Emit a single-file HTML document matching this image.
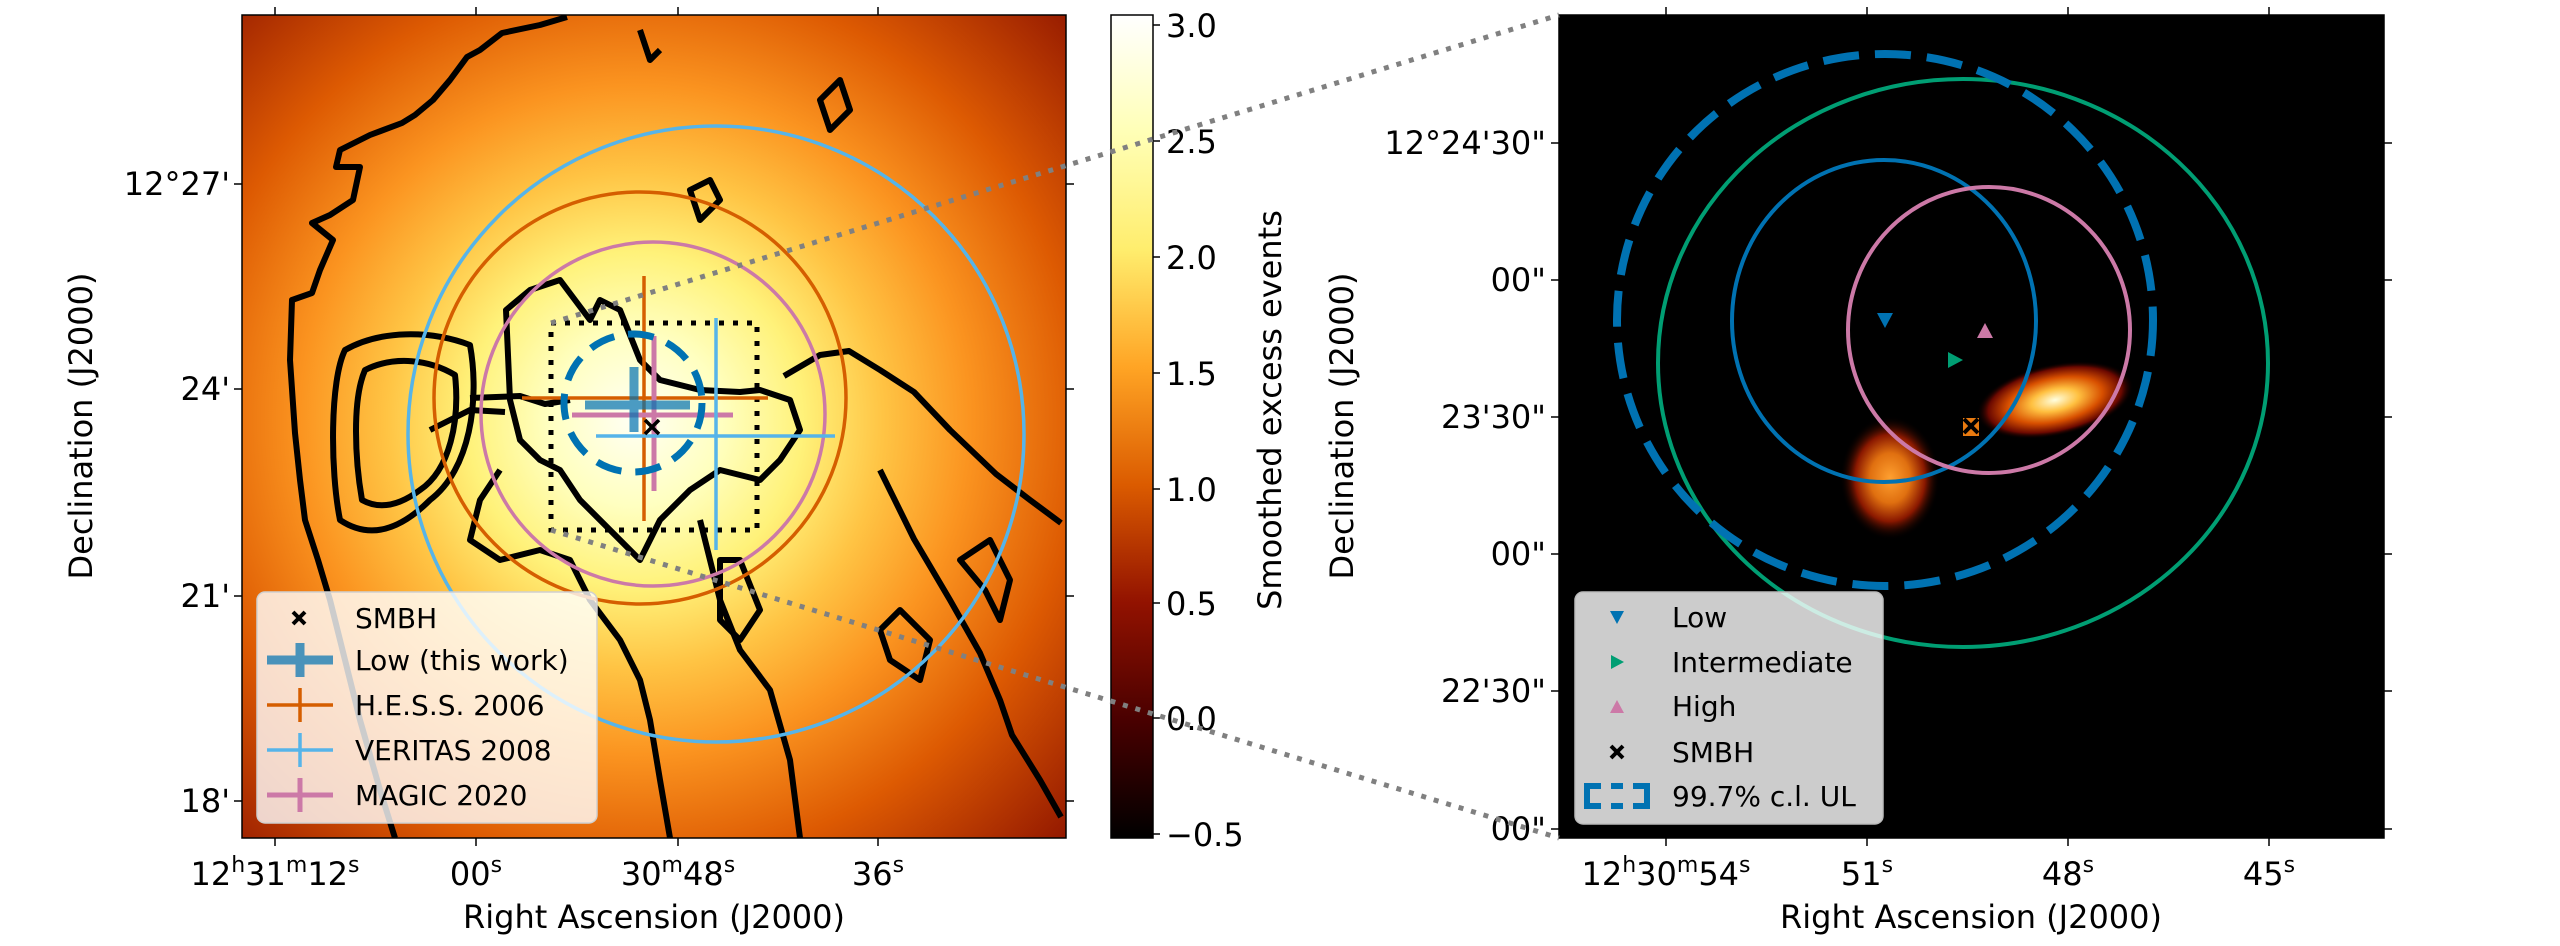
<!DOCTYPE html>
<html><head><meta charset="utf-8"><style>html,body{margin:0;padding:0;background:#fff}svg{display:block}</style></head>
<body>
<svg width="2560" height="946" viewBox="0 0 2560 946" xmlns="http://www.w3.org/2000/svg" font-family="'DejaVu Sans','Liberation Sans',sans-serif">
<defs>
<radialGradient id="hm" gradientUnits="userSpaceOnUse" cx="635" cy="420" r="620">
<stop offset="0" stop-color="#fffff4"/>
<stop offset="0.14" stop-color="#ffffc0"/>
<stop offset="0.27" stop-color="#fff27a"/>
<stop offset="0.40" stop-color="#ffc444"/>
<stop offset="0.54" stop-color="#fb9420"/>
<stop offset="0.72" stop-color="#dd5a02"/>
<stop offset="1" stop-color="#8a1000"/>
</radialGradient>
<linearGradient id="cb" x1="0" y1="0" x2="0" y2="1">
<stop offset="0" stop-color="#ffffff"/>
<stop offset="0.1428" stop-color="#ffffb6"/>
<stop offset="0.2857" stop-color="#ffed6d"/>
<stop offset="0.4286" stop-color="#ffa424"/>
<stop offset="0.5714" stop-color="#db5b00"/>
<stop offset="0.7143" stop-color="#921200"/>
<stop offset="0.8571" stop-color="#490000"/>
<stop offset="1" stop-color="#000000"/>
</linearGradient>
<radialGradient id="blob" cx="0.5" cy="0.5" r="0.5">
<stop offset="0" stop-color="#ffffe0"/>
<stop offset="0.3" stop-color="#ffc040"/>
<stop offset="0.6" stop-color="#d85000"/>
<stop offset="0.85" stop-color="#6a0800"/>
<stop offset="1" stop-color="#000" stop-opacity="0"/>
</radialGradient>
<radialGradient id="blob2" cx="0.5" cy="0.5" r="0.5">
<stop offset="0" stop-color="#ffa030"/>
<stop offset="0.4" stop-color="#e07010"/>
<stop offset="0.7" stop-color="#8a1800"/>
<stop offset="1" stop-color="#000" stop-opacity="0"/>
</radialGradient>
<clipPath id="cl"><rect x="242" y="15" width="824" height="823"/></clipPath>
<clipPath id="cr"><rect x="1559" y="15" width="825" height="823"/></clipPath>
</defs>

<!-- LEFT PANEL -->
<g clip-path="url(#cl)">
<rect x="242" y="15" width="824" height="823" fill="url(#hm)"/>
<g fill="none" stroke="#000" stroke-width="6" stroke-linejoin="round">
<path d="M567,17 L540,25 L502,33 L480,50 L467,57 L450,80 L433,100 L415,115 L402,123 L370,135 L340,150 L336,167 L360,167 L353,200 L330,215 L312,223 L333,240 L320,270 L312,293 L292,300 L290,360 L295,433 L300,480 L305,520 L318,560 L330,600 L345,660 L360,720 L380,790 L395,838"/>
<path d="M340,520 C330,470 330,380 345,350 C380,330 430,330 470,345 C480,400 470,470 430,500 C400,530 370,540 340,520 Z"/>
<path d="M362,500 C355,460 352,400 365,370 C395,355 430,360 455,375 C460,420 450,470 420,490 C400,505 380,510 362,500 Z"/>
<path d="M470,398 L520,396 L545,404 L570,400 M430,430 L470,410 L505,412"/>
<path d="M506,310 L530,290 L560,280 L575,300 L590,320 L600,300 L620,310 L640,360 L660,380 L700,390 L740,392 L760,390 L790,400 L800,430 L780,460 L760,480 L720,470 L690,490 L660,520 L640,560 L620,540 L600,520 L580,500 L560,470 L540,460 L520,440 L510,400 Z"/>
<path d="M500,470 L480,500 L470,540 L500,560 L540,550 L570,560 L590,600 L620,640 L640,680 L650,720 L660,780 L670,838"/>
<path d="M700,520 L720,600 L740,650 L770,690 L790,760 L800,838"/>
<path d="M784,376 L820,355 L849,351 L880,370 L914,392 L950,430 L996,474 L1030,500 L1061,523"/>
<path d="M880,470 L914,539 L950,600 L980,653 L1000,700 L1012,735 L1040,780 L1061,817"/>
<path d="M960,560 L990,540 L1010,580 L1000,620 L985,590 Z"/>
<path d="M820,100 L840,80 L850,110 L830,130 Z"/>
<path d="M880,630 L900,610 L930,640 L920,680 L890,660 Z"/>
<path d="M720,560 L740,560 L760,610 L740,640 L720,620 Z"/>
<path d="M640,30 L650,60 L660,50 M690,190 L700,220 L720,200 L710,180 Z"/>
</g>
<circle cx="716" cy="434" r="308" fill="none" stroke="#56B4E9" stroke-width="3.5"/>
<circle cx="640" cy="398" r="206" fill="none" stroke="#D55E00" stroke-width="3.5"/>
<circle cx="653" cy="414" r="172" fill="none" stroke="#CC79A7" stroke-width="3.5"/>
<rect x="551" y="323" width="206" height="207" fill="none" stroke="#000" stroke-width="5" stroke-dasharray="5,9"/>
<g stroke="#D55E00" stroke-width="3.5"><line x1="522" y1="398" x2="768" y2="398"/><line x1="644" y1="276" x2="644" y2="521"/></g>
<g stroke="#CC79A7" stroke-width="5"><line x1="572" y1="415" x2="733" y2="415"/><line x1="654" y1="336" x2="654" y2="491"/></g>
<g stroke="#56B4E9" stroke-width="3.5"><line x1="596" y1="436" x2="835" y2="436"/><line x1="716" y1="318" x2="716" y2="550"/></g>
<g stroke="#0072B2" stroke-width="9" opacity="0.7"><line x1="585" y1="405" x2="690" y2="405"/><line x1="634" y1="367" x2="634" y2="432"/></g>
<circle cx="633" cy="403" r="69" fill="none" stroke="#0072B2" stroke-width="7" stroke-dasharray="26,14"/>
<g stroke="#000" stroke-width="3.5"><line x1="645" y1="420" x2="659" y2="434"/><line x1="659" y1="420" x2="645" y2="434"/></g>
<rect x="257" y="592" width="340" height="231" rx="8" fill="#fff" fill-opacity="0.8" stroke="#d0d0d0" stroke-width="1.5"/>
<g stroke="#000" stroke-width="4"><line x1="293" y1="612" x2="305" y2="624"/><line x1="305" y1="612" x2="293" y2="624"/></g>
<g stroke="#0072B2" stroke-width="9" opacity="0.7"><line x1="267" y1="660" x2="333" y2="660"/><line x1="300" y1="643" x2="300" y2="677"/></g>
<g stroke="#D55E00" stroke-width="3.5"><line x1="267" y1="705" x2="333" y2="705"/><line x1="300" y1="688" x2="300" y2="722"/></g>
<g stroke="#56B4E9" stroke-width="3.5"><line x1="267" y1="750" x2="333" y2="750"/><line x1="300" y1="733" x2="300" y2="767"/></g>
<g stroke="#CC79A7" stroke-width="5"><line x1="267" y1="795" x2="333" y2="795"/><line x1="300" y1="778" x2="300" y2="812"/></g>
<g font-size="28" fill="#000">
<text x="355" y="628">SMBH</text>
<text x="355" y="670">Low (this work)</text>
<text x="355" y="715">H.E.S.S. 2006</text>
<text x="355" y="760">VERITAS 2008</text>
<text x="355" y="805">MAGIC 2020</text>
</g>
</g>
<rect x="242" y="15" width="824" height="823" fill="none" stroke="#000" stroke-width="1.5"/>
<g stroke="#000" stroke-width="1.5">
<line x1="275" y1="838" x2="275" y2="846"/><line x1="476" y1="838" x2="476" y2="846"/><line x1="678" y1="838" x2="678" y2="846"/><line x1="878" y1="838" x2="878" y2="846"/>
<line x1="275" y1="15" x2="275" y2="7"/><line x1="476" y1="15" x2="476" y2="7"/><line x1="678" y1="15" x2="678" y2="7"/><line x1="878" y1="15" x2="878" y2="7"/>
<line x1="242" y1="184" x2="234" y2="184"/><line x1="242" y1="389" x2="234" y2="389"/><line x1="242" y1="596" x2="234" y2="596"/><line x1="242" y1="801" x2="234" y2="801"/>
<line x1="1066" y1="184" x2="1074" y2="184"/><line x1="1066" y1="389" x2="1074" y2="389"/><line x1="1066" y1="596" x2="1074" y2="596"/><line x1="1066" y1="801" x2="1074" y2="801"/>
</g>
<g font-size="32" fill="#000">
<text x="230" y="195" text-anchor="end">12°27'</text>
<text x="230" y="400" text-anchor="end">24'</text>
<text x="230" y="607" text-anchor="end">21'</text>
<text x="230" y="812" text-anchor="end">18'</text>
<text x="275" y="885" text-anchor="middle">12<tspan font-size="22" dy="-13">h</tspan><tspan dy="13">31</tspan><tspan font-size="22" dy="-13">m</tspan><tspan dy="13">12</tspan><tspan font-size="22" dy="-13">s</tspan></text>
<text x="476" y="885" text-anchor="middle">00<tspan font-size="22" dy="-13">s</tspan></text>
<text x="678" y="885" text-anchor="middle">30<tspan font-size="22" dy="-13">m</tspan><tspan dy="13">48</tspan><tspan font-size="22" dy="-13">s</tspan></text>
<text x="878" y="885" text-anchor="middle">36<tspan font-size="22" dy="-13">s</tspan></text>
<text x="654" y="928" text-anchor="middle">Right Ascension (J2000)</text>
<text transform="translate(92,426) rotate(-90)" text-anchor="middle">Declination (J2000)</text>
</g>

<!-- COLORBAR -->
<rect x="1111" y="15" width="42" height="823" fill="url(#cb)" stroke="#000" stroke-width="1.5"/>
<g stroke="#000" stroke-width="1.5">
<line x1="1153" y1="25" x2="1160" y2="25"/><line x1="1153" y1="141" x2="1160" y2="141"/><line x1="1153" y1="257" x2="1160" y2="257"/><line x1="1153" y1="373" x2="1160" y2="373"/><line x1="1153" y1="489" x2="1160" y2="489"/><line x1="1153" y1="603" x2="1160" y2="603"/><line x1="1153" y1="718" x2="1160" y2="718"/><line x1="1153" y1="834" x2="1160" y2="834"/>
</g>
<g font-size="32" fill="#000">
<text x="1166" y="37">3.0</text><text x="1166" y="153">2.5</text><text x="1166" y="269">2.0</text><text x="1166" y="385">1.5</text><text x="1166" y="501">1.0</text><text x="1166" y="615">0.5</text><text x="1166" y="730">0.0</text><text x="1166" y="846">−0.5</text>
<text transform="translate(1281,410) rotate(-90)" text-anchor="middle">Smoothed excess events</text>
</g>

<!-- RIGHT PANEL -->
<g clip-path="url(#cr)">
<rect x="1559" y="15" width="825" height="823" fill="#000"/>
<ellipse cx="2055" cy="400" rx="80" ry="36" fill="url(#blob)" transform="rotate(-12 2055 400)"/>
<ellipse cx="1890" cy="478" rx="50" ry="62" fill="url(#blob2)"/>
<rect x="1963" y="418" width="16" height="18" fill="#e87a10"/>
<ellipse cx="1963" cy="363" rx="305" ry="284" fill="none" stroke="#009E73" stroke-width="4"/>
<ellipse cx="1884" cy="321" rx="152" ry="161" fill="none" stroke="#0072B2" stroke-width="4"/>
<ellipse cx="1989" cy="330" rx="141" ry="143" fill="none" stroke="#CC79A7" stroke-width="4"/>
<ellipse cx="1885" cy="320" rx="268" ry="266" fill="none" stroke="#0072B2" stroke-width="8" stroke-dasharray="36,16"/>
<polygon points="1877,313 1893,313 1885,328" fill="#0072B2"/>
<polygon points="1948,352 1963,360 1948,368" fill="#009E73"/>
<polygon points="1985,323 1993,338 1977,338" fill="#CC79A7"/>
<g stroke="#000" stroke-width="4"><line x1="1964" y1="419" x2="1978" y2="433"/><line x1="1978" y1="419" x2="1964" y2="433"/></g>
<rect x="1575" y="592" width="308" height="232" rx="8" fill="#fff" fill-opacity="0.8" stroke="#bbb" stroke-width="1.5"/>
<polygon points="1610,611 1624,611 1617,624" fill="#0072B2"/>
<polygon points="1611,655 1624,662 1611,669" fill="#009E73"/>
<polygon points="1617,700 1624,713 1610,713" fill="#CC79A7"/>
<g stroke="#000" stroke-width="4"><line x1="1611" y1="746" x2="1623" y2="758"/><line x1="1623" y1="746" x2="1611" y2="758"/></g>
<path d="M1587,796 L1587,786 L1601,786 M1611,786 L1623,786 M1633,786 L1647,786 L1647,796 M1587,796 L1587,806 L1601,806 M1611,806 L1623,806 M1633,806 L1647,806 L1647,796" fill="none" stroke="#0072B2" stroke-width="6"/>
<g font-size="28" fill="#000">
<text x="1672" y="627">Low</text>
<text x="1672" y="672">Intermediate</text>
<text x="1672" y="716">High</text>
<text x="1672" y="762">SMBH</text>
<text x="1672" y="806">99.7% c.l. UL</text>
</g>
</g>
<rect x="1559" y="15" width="825" height="823" fill="none" stroke="#000" stroke-width="1.5"/>
<g stroke="#000" stroke-width="1.5">
<line x1="1666" y1="838" x2="1666" y2="846"/><line x1="1867" y1="838" x2="1867" y2="846"/><line x1="2068" y1="838" x2="2068" y2="846"/><line x1="2269" y1="838" x2="2269" y2="846"/>
<line x1="1666" y1="15" x2="1666" y2="7"/><line x1="1867" y1="15" x2="1867" y2="7"/><line x1="2068" y1="15" x2="2068" y2="7"/><line x1="2269" y1="15" x2="2269" y2="7"/>
<line x1="1559" y1="143" x2="1551" y2="143"/><line x1="1559" y1="280" x2="1551" y2="280"/><line x1="1559" y1="417" x2="1551" y2="417"/><line x1="1559" y1="554" x2="1551" y2="554"/><line x1="1559" y1="691" x2="1551" y2="691"/><line x1="1559" y1="829" x2="1551" y2="829"/>
<line x1="2384" y1="143" x2="2392" y2="143"/><line x1="2384" y1="280" x2="2392" y2="280"/><line x1="2384" y1="417" x2="2392" y2="417"/><line x1="2384" y1="554" x2="2392" y2="554"/><line x1="2384" y1="691" x2="2392" y2="691"/><line x1="2384" y1="829" x2="2392" y2="829"/>
</g>
<g font-size="32" fill="#000">
<text x="1546" y="154" text-anchor="end">12°24'30"</text>
<text x="1546" y="291" text-anchor="end">00"</text>
<text x="1546" y="428" text-anchor="end">23'30"</text>
<text x="1546" y="565" text-anchor="end">00"</text>
<text x="1546" y="702" text-anchor="end">22'30"</text>
<text x="1546" y="840" text-anchor="end">00"</text>
<text x="1666" y="885" text-anchor="middle">12<tspan font-size="22" dy="-13">h</tspan><tspan dy="13">30</tspan><tspan font-size="22" dy="-13">m</tspan><tspan dy="13">54</tspan><tspan font-size="22" dy="-13">s</tspan></text>
<text x="1867" y="885" text-anchor="middle">51<tspan font-size="22" dy="-13">s</tspan></text>
<text x="2068" y="885" text-anchor="middle">48<tspan font-size="22" dy="-13">s</tspan></text>
<text x="2269" y="885" text-anchor="middle">45<tspan font-size="22" dy="-13">s</tspan></text>
<text x="1971" y="928" text-anchor="middle">Right Ascension (J2000)</text>
<text transform="translate(1353,426) rotate(-90)" text-anchor="middle">Declination (J2000)</text>
</g>

<g stroke="#808080" stroke-width="5" stroke-dasharray="5,8" fill="none">
<line x1="551" y1="323" x2="1559" y2="15"/>
<line x1="551" y1="530" x2="1559" y2="838"/>
</g>
</svg>
</body></html>
